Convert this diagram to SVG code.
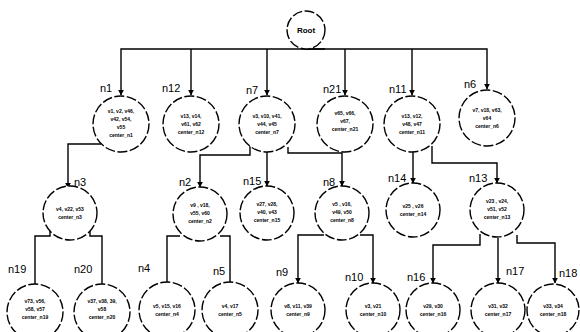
<svg xmlns="http://www.w3.org/2000/svg" width="580" height="332" viewBox="0 0 580 332">
<defs>
<marker id="ah" viewBox="0 0 10 10" refX="9" refY="5" markerWidth="6" markerHeight="6" orient="auto" markerUnits="userSpaceOnUse">
<path d="M0,0 L10,5 L0,10 z" fill="#000"/>
</marker>
<style>
.nd{fill:#fff;stroke:#000;stroke-width:1.4;stroke-dasharray:10 2.5}
.ln{fill:none;stroke:#000;stroke-width:1.4;marker-end:url(#ah)}
.lb{font-family:"Liberation Sans",Arial,sans-serif;font-size:11px;fill:#000}
.tx{font-family:"Liberation Sans",Arial,sans-serif;font-size:5px;font-weight:bold;fill:#000;text-anchor:middle}
.rt{font-family:"Liberation Sans",Arial,sans-serif;font-size:8px;font-weight:bold;fill:#000;text-anchor:middle}
</style>
</defs>
<rect width="580" height="332" fill="#fff"/>
<g id="connectors">
<path class="ln" d="M325,49 H121 V95"/>
<path class="ln" d="M191,49 V95"/>
<path class="ln" d="M267,49 V95"/>
<path class="ln" d="M306,49 H487 V89"/>
<path class="ln" d="M345,49 V95"/>
<path class="ln" d="M412,49 V95"/>
<path class="ln" d="M101,144 H68 V188"/>
<path class="ln" d="M250,146 V155 H200 V187"/>
<path class="ln" d="M267,152 V186"/>
<path class="ln" d="M288,147 V153 H342 V186"/>
<path class="ln" d="M413,152 V183"/>
<path class="ln" d="M432,146 V163 H497 V183"/>
<path class="ln" d="M50,231 V236 H35 V292"/>
<path class="ln" d="M90,231 V236 H102 V292"/>
<path class="ln" d="M180,236 H167 V288"/>
<path class="ln" d="M220,236 H230 V288"/>
<path class="ln" d="M324,235 H298 V283"/>
<path class="ln" d="M360,235 H373 V283"/>
<path class="ln" d="M480,234 V245 H433 V283"/>
<path class="ln" d="M498,238 V283"/>
<path class="ln" d="M517,235 V243 H555 V283"/>
</g>
<g id="Root"><circle class="nd" cx="306" cy="30" r="19"/><text class="rt" x="306" y="33">Root</text></g>
<g id="n1"><circle class="nd" cx="121" cy="124" r="28"/><text class="lb" x="100" y="92">n1</text>
<text class="tx"><tspan x="121" y="113">v1, v2, v46,</tspan><tspan x="121" y="121">v42, v54,</tspan><tspan x="121" y="129">v55</tspan><tspan x="121" y="137">center_n1</tspan></text></g>
<g id="n12"><circle class="nd" cx="191" cy="124" r="28"/><text class="lb" x="162" y="92">n12</text>
<text class="tx"><tspan x="191" y="118">v13, v14,</tspan><tspan x="191" y="126">v61, v62</tspan><tspan x="191" y="134">center_n12</tspan></text></g>
<g id="n7"><circle class="nd" cx="267" cy="124" r="28"/><text class="lb" x="246" y="94">n7</text>
<text class="tx"><tspan x="267" y="118">v3, v10, v41,</tspan><tspan x="267" y="126">v44, v45</tspan><tspan x="267" y="134">center_n7</tspan></text></g>
<g id="n21"><circle class="nd" cx="345" cy="124" r="28"/><text class="lb" x="323" y="93">n21</text>
<text class="tx"><tspan x="345" y="115">v65, v66,</tspan><tspan x="345" y="123">v67,</tspan><tspan x="345" y="131">center_n21</tspan></text></g>
<g id="n11"><circle class="nd" cx="412" cy="124" r="28"/><text class="lb" x="389" y="93">n11</text>
<text class="tx"><tspan x="412" y="118">v13, v12,</tspan><tspan x="412" y="126">v48, v47</tspan><tspan x="412" y="134">center_n11</tspan></text></g>
<g id="n6"><circle class="nd" cx="487" cy="118" r="28"/><text class="lb" x="464" y="88">n6</text>
<text class="tx"><tspan x="487" y="112">v7, v18, v63,</tspan><tspan x="487" y="120">v64</tspan><tspan x="487" y="128">center_n6</tspan></text></g>
<g id="n3"><circle class="nd" cx="70" cy="213" r="27"/><text class="lb" x="74" y="186">n3</text>
<text class="tx"><tspan x="70" y="211">v4, v22, v53</tspan><tspan x="70" y="219">center_n3</tspan></text></g>
<g id="n2"><circle class="nd" cx="200" cy="214" r="27"/><text class="lb" x="179" y="186">n2</text>
<text class="tx"><tspan x="200" y="207">v9 , v18,</tspan><tspan x="200" y="215">v55, v60</tspan><tspan x="200" y="223">center_n2</tspan></text></g>
<g id="n15"><circle class="nd" cx="267" cy="213" r="27"/><text class="lb" x="243" y="185">n15</text>
<text class="tx"><tspan x="267" y="206">v27, v28,</tspan><tspan x="267" y="214">v40, v43</tspan><tspan x="267" y="222">center_n15</tspan></text></g>
<g id="n8"><circle class="nd" cx="342" cy="213" r="27"/><text class="lb" x="323" y="186">n8</text>
<text class="tx"><tspan x="342" y="206">v5 , v16,</tspan><tspan x="342" y="214">v49, v50</tspan><tspan x="342" y="222">center_n8</tspan></text></g>
<g id="n14"><circle class="nd" cx="413" cy="210" r="27"/><text class="lb" x="388" y="182">n14</text>
<text class="tx"><tspan x="413" y="208">v25 , v26</tspan><tspan x="413" y="216">center_n14</tspan></text></g>
<g id="n13"><circle class="nd" cx="497" cy="210" r="27"/><text class="lb" x="469" y="182">n13</text>
<text class="tx"><tspan x="497" y="203">v23 , v24,</tspan><tspan x="497" y="211">v51, v52</tspan><tspan x="497" y="219">center_n13</tspan></text></g>
<g id="n19"><circle class="nd" cx="35" cy="312" r="28"/><text class="lb" x="8" y="273">n19</text>
<text class="tx"><tspan x="35" y="303">v73, v56,</tspan><tspan x="35" y="311">v58, v57</tspan><tspan x="35" y="319">center_n19</tspan></text></g>
<g id="n20"><circle class="nd" cx="102" cy="312" r="28"/><text class="lb" x="74" y="273">n20</text>
<text class="tx"><tspan x="102" y="303">v37, v38, 39,</tspan><tspan x="102" y="311">v58</tspan><tspan x="102" y="319">center_n20</tspan></text></g>
<g id="n4"><circle class="nd" cx="167" cy="310" r="28"/><text class="lb" x="138" y="272">n4</text>
<text class="tx"><tspan x="167" y="308">v5, v15, v16</tspan><tspan x="167" y="316">center_n4</tspan></text></g>
<g id="n5"><circle class="nd" cx="230" cy="310" r="28"/><text class="lb" x="213" y="275">n5</text>
<text class="tx"><tspan x="230" y="308">v4, v17</tspan><tspan x="230" y="316">center_n5</tspan></text></g>
<g id="n9"><circle class="nd" cx="298" cy="310" r="27"/><text class="lb" x="276" y="276">n9</text>
<text class="tx"><tspan x="298" y="308">v8, v11, v39</tspan><tspan x="298" y="316">center_n9</tspan></text></g>
<g id="n10"><circle class="nd" cx="373" cy="310" r="27"/><text class="lb" x="345" y="281">n10</text>
<text class="tx"><tspan x="373" y="308">v3, v21</tspan><tspan x="373" y="316">center_n10</tspan></text></g>
<g id="n16"><circle class="nd" cx="433" cy="310" r="27"/><text class="lb" x="407" y="281">n16</text>
<text class="tx"><tspan x="433" y="308">v29, v30</tspan><tspan x="433" y="316">center_n16</tspan></text></g>
<g id="n17"><circle class="nd" cx="498" cy="310" r="27"/><text class="lb" x="506" y="275">n17</text>
<text class="tx"><tspan x="498" y="308">v31, v32</tspan><tspan x="498" y="316">center_n17</tspan></text></g>
<g id="n18"><circle class="nd" cx="553" cy="310" r="26"/><text class="lb" x="559" y="277">n18</text>
<text class="tx"><tspan x="553" y="308">v33, v34</tspan><tspan x="553" y="316">center_n18</tspan></text></g>
</svg>
